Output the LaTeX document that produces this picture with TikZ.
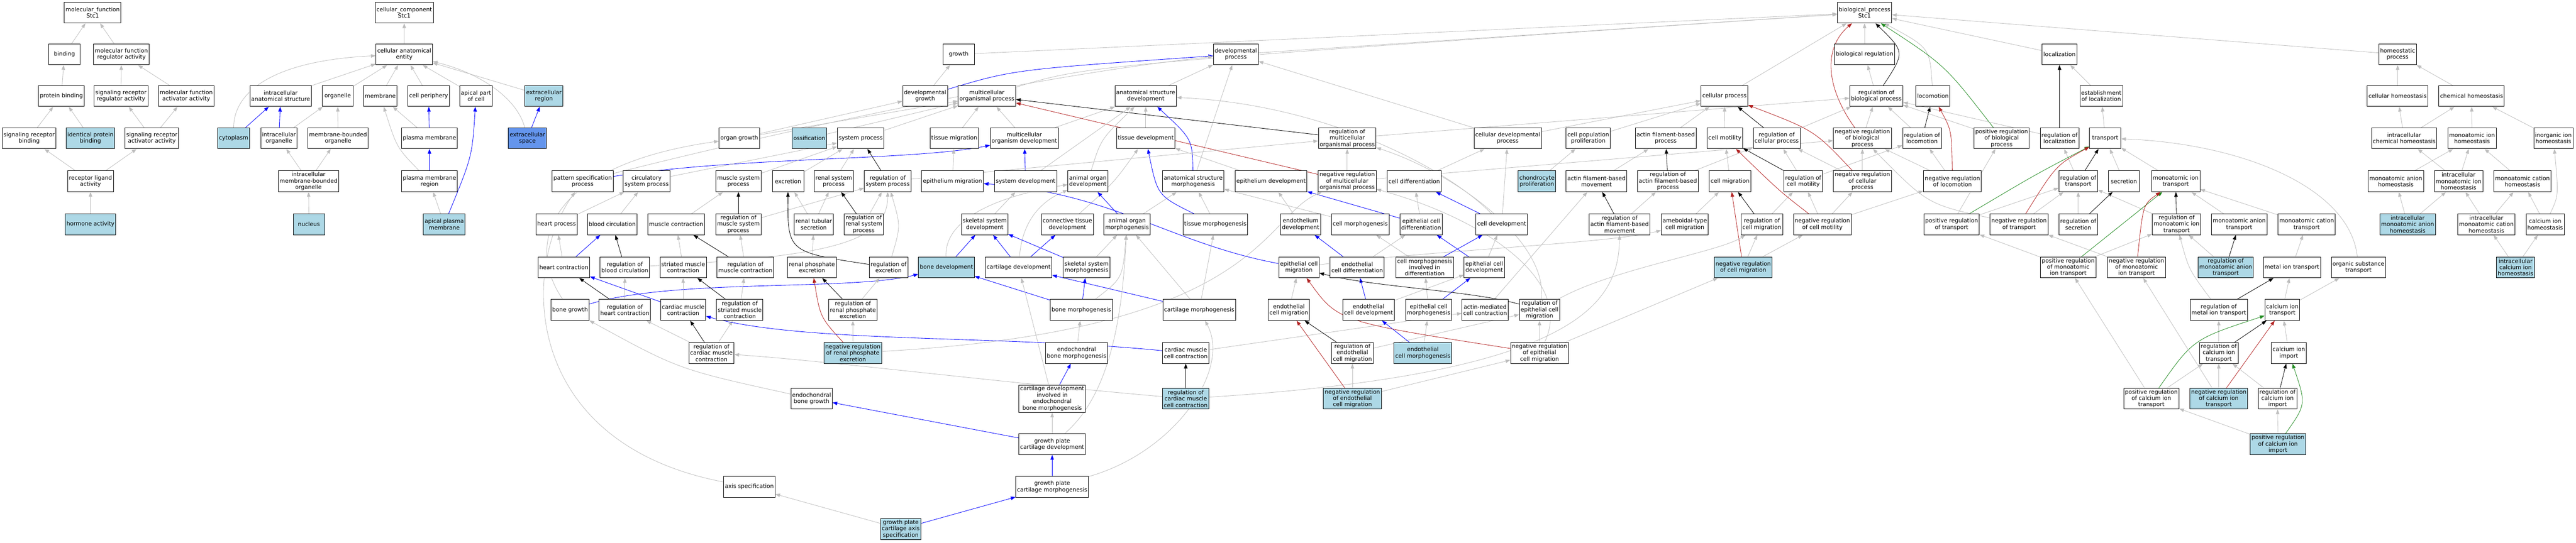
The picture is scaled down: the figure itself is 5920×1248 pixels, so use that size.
\documentclass[tikz,border=0pt]{standalone}
\usepackage{fontspec}
\setmainfont{DejaVu Sans}
\usetikzlibrary{arrows.meta,backgrounds}
\definecolor{hitblue}{HTML}{ADD8E6}
\definecolor{seedblue}{HTML}{6495ED}
\definecolor{edgegray}{HTML}{BEBEBE}
\definecolor{negred}{HTML}{B22222}
\definecolor{posgreen}{HTML}{228B22}
\begin{document}
\begin{tikzpicture}[x=1pt,y=-1pt,
  term/.style={draw, rectangle, fill=white, line width=1.1pt, minimum width=72pt, minimum height=48pt, inner sep=3pt, align=center, font=\fontsize{13pt}{14.7pt}\selectfont},
  hit/.style={term, fill=hitblue},
  seed/.style={term, fill=seedblue},
  isa/.style={color=edgegray, line width=1pt, -{Triangle[length=11pt,width=8pt]}},
  partof/.style={isa, color=blue},
  reg/.style={isa, color=black},
  negreg/.style={isa, color=negred},
  posreg/.style={isa, color=posgreen}]
\useasboundingbox (0,0) rectangle (5920,1248);
% molecular function
\node[term] (mf) at (213,29) {molecular\_function\\Stc1};
\node[term] (bind) at (148,125) {binding};
\node[term] (mfra) at (279,125) {molecular function\\regulator activity};
\node[term] (pbind) at (141,221) {protein binding};
\node[term] (srra) at (278,221) {signaling receptor\\regulator activity};
\node[term] (mfaa) at (428,221) {molecular function\\activator activity};
\node[term] (srb) at (67,318) {signaling receptor\\binding};
\node[hit] (ipb) at (208,318) {identical protein\\binding};
\node[term] (sraa) at (349,318) {signaling receptor\\activator activity};
\node[term] (rla) at (208,417) {receptor ligand\\activity};
\node[hit] (horm) at (208,516) {hormone activity};
% cellular component
\node[term] (cc) at (929,29) {cellular\_component\\Stc1};
\node[term] (cae) at (929,125) {cellular anatomical\\entity};
\node[term] (ias) at (645,221) {intracellular\\anatomical structure};
\node[term] (org) at (776,221) {organelle};
\node[term] (mem) at (874,221) {membrane};
\node[term] (cper) at (985,221) {cell periphery};
\node[term] (apc) at (1094,221) {apical part\\of cell};
\node[hit] (exr) at (1250,221) {extracellular\\region};
\node[hit] (cyto) at (537,318) {cytoplasm};
\node[term] (iorg) at (641,318) {intracellular\\organelle};
\node[term] (mbo) at (777,318) {membrane-bounded\\organelle};
\node[term] (pm) at (987,318) {plasma membrane};
\node[seed] (exs) at (1212,318) {extracellular\\space};
\node[term] (imbo) at (709,417) {intracellular\\membrane-bounded\\organelle};
\node[term] (pmr) at (987,417) {plasma membrane\\region};
\node[hit] (nuc) at (710,516) {nucleus};
\node[hit] (apm) at (1021,516) {apical plasma\\membrane};
% biological process
\node[term] (bp) at (4285,29) {biological\_process\\Stc1};
\node[term] (growth) at (2203,125) {growth};
\node[term] (devp) at (2840,125) {developmental\\process};
\node[term] (breg) at (4285,125) {biological regulation};
\node[term] (loc) at (4733,125) {localization};
\node[term] (homp) at (5510,125) {homeostatic\\process};
\node[term] (devg) at (2126,221) {developmental\\growth};
\node[term] (mop) at (2268,221) {multicellular\\organismal process};
\node[term] (asd) at (2633,221) {anatomical structure\\development};
\node[term] (cproc) at (3963,221) {cellular process};
\node[term] (rbp) at (4312,221) {regulation of\\biological process};
\node[term] (locom) at (4442,221) {locomotion};
\node[term] (estloc) at (4829,221) {establishment\\of localization};
\node[term] (chom) at (5510,221) {cellular homeostasis};
\node[term] (chemh) at (5680,221) {chemical homeostasis};
\node[term] (orgg) at (1699,318) {organ growth};
\node[hit] (oss) at (1860,318) {ossification};
\node[term] (sysp) at (1978,318) {system process};
\node[term] (tmig) at (2193,318) {tissue migration};
\node[term] (mod) at (2354,318) {multicellular\\organism development};
\node[term] (tdev) at (2633,318) {tissue development};
\node[term] (rmop) at (3096,318) {regulation of\\multicellular\\organismal process};
\node[term] (cdp) at (3465,318) {cellular developmental\\process};
\node[term] (cpp) at (3650,318) {cell population\\proliferation};
\node[term] (afbp) at (3828,318) {actin filament-based\\process};
\node[term] (cmot) at (3964,318) {cell motility};
\node[term] (rcp) at (4083,318) {regulation of\\cellular process};
\node[term] (nrbp) at (4280,318) {negative regulation\\of biological\\process};
\node[term] (rloc) at (4417,318) {regulation of\\locomotion};
\node[term] (prbp) at (4600,318) {positive regulation\\of biological\\process};
\node[term] (rlocz) at (4733,318) {regulation of\\localization};
\node[term] (trans) at (4838,318) {transport};
\node[term] (ichem) at (5525,318) {intracellular\\chemical homeostasis};
\node[term] (mih) at (5681,318) {monoatomic ion\\homeostasis};
\node[term] (iih) at (5868,318) {inorganic ion\\homeostasis};
\node[term] (pspec) at (1339,417) {pattern specification\\process};
\node[term] (csp) at (1486,417) {circulatory\\system process};
\node[term] (msp) at (1697,417) {muscle system\\process};
\node[term] (excr) at (1811,417) {excretion};
\node[term] (rsp) at (1916,417) {renal system\\process};
\node[term] (rsysp) at (2040,417) {regulation of\\system process};
\node[term] (emig) at (2189,417) {epithelium migration};
\node[term] (sdev) at (2357,417) {system development};
\node[term] (aod) at (2500,417) {animal organ\\development};
\node[term] (asm) at (2742,417) {anatomical structure\\morphogenesis};
\node[term] (edev) at (2921,417) {epithelium development};
\node[term] (nrmop) at (3096,417) {negative regulation\\of multicellular\\organismal process};
\node[term] (cdiff) at (3250,417) {cell differentiation};
\node[hit] (chpro) at (3532,417) {chondrocyte\\proliferation};
\node[term] (afbm) at (3669,417) {actin filament-based\\movement};
\node[term] (rafbp) at (3833,417) {regulation of\\actin filament-based\\process};
\node[term] (cmig) at (3976,417) {cell migration};
\node[term] (rcmot) at (4144,417) {regulation of\\cell motility};
\node[term] (nrcp) at (4280,417) {negative regulation\\of cellular\\process};
\node[term] (nrloc) at (4487,417) {negative regulation\\of locomotion};
\node[term] (rtrans) at (4776,417) {regulation of\\transport};
\node[term] (secr) at (4881,417) {secretion};
\node[term] (mit) at (5000,417) {monoatomic ion\\transport};
\node[term] (manh) at (5506,417) {monoatomic anion\\homeostasis};
\node[term] (imih) at (5650,417) {intracellular\\monoatomic ion\\homeostasis};
\node[term] (mcath) at (5797,417) {monoatomic cation\\homeostasis};
\node[term] (hproc) at (1279,516) {heart process};
\node[term] (bcirc) at (1407,516) {blood circulation};
\node[term] (mcon) at (1554,516) {muscle contraction};
\node[term] (rmsp) at (1697,516) {regulation of\\muscle system\\process};
\node[term] (rts) at (1870,516) {renal tubular\\secretion};
\node[term] (rrsp) at (1985,516) {regulation of\\renal system\\process};
\node[term] (ssd) at (2263,516) {skeletal system\\development};
\node[term] (ctd) at (2453,516) {connective tissue\\development};
\node[term] (aom) at (2590,516) {animal organ\\morphogenesis};
\node[term] (tmorph) at (2793,516) {tissue morphogenesis};
\node[term] (endev) at (2989,516) {endothelium\\development};
\node[term] (cmorph) at (3126,516) {cell morphogenesis};
\node[term] (ecd) at (3266,516) {epithelial cell\\differentiation};
\node[term] (cdev) at (3451,516) {cell development};
\node[term] (rafbm) at (3722,516) {regulation of\\actin filament-based\\movement};
\node[term] (amcm) at (3872,516) {ameboidal-type\\cell migration};
\node[term] (rcmig) at (4049,516) {regulation of\\cell migration};
\node[term] (nrcmot) at (4188,516) {negative regulation\\of cell motility};
\node[term] (prt) at (4485,516) {positive regulation\\of transport};
\node[term] (nrt) at (4640,516) {negative regulation\\of transport};
\node[term] (rsec) at (4776,516) {regulation of\\secretion};
\node[term] (rmit) at (5002,516) {regulation of\\monoatomic ion\\transport};
\node[term] (mant) at (5146,516) {monoatomic anion\\transport};
\node[term] (mcat) at (5301,516) {monoatomic cation\\transport};
\node[hit] (imanh) at (5533,516) {intracellular\\monoatomic anion\\homeostasis};
\node[term] (imcath) at (5714,516) {intracellular\\monoatomic cation\\homeostasis};
\node[term] (cah) at (5849,516) {calcium ion\\homeostasis};
\node[term] (hcon) at (1296,615) {heart contraction};
\node[term] (rbc) at (1436,615) {regulation of\\blood circulation};
\node[term] (smc) at (1570,615) {striated muscle\\contraction};
\node[term] (rmc) at (1713,615) {regulation of\\muscle contraction};
\node[term] (rpe) at (1866,615) {renal phosphate\\excretion};
\node[term] (rexc) at (2042,615) {regulation of\\excretion};
\node[hit] (bdev) at (2175,615) {bone development};
\node[term] (cdevl) at (2341,615) {cartilage development};
\node[term] (ssm) at (2497,615) {skeletal system\\morphogenesis};
\node[term] (ecmig) at (2985,615) {epithelial cell\\migration};
\node[term] (ecdiff) at (3119,615) {endothelial\\cell differentiation};
\node[term] (cmid) at (3274,615) {cell morphogenesis\\involved in\\differentiation};
\node[term] (ecdev) at (3411,615) {epithelial cell\\development};
\node[hit] (nrcmig) at (4006,615) {negative regulation\\of cell migration};
\node[term] (prmit) at (4753,615) {positive regulation\\of monoatomic\\ion transport};
\node[term] (nrmit) at (4910,615) {negative regulation\\of monoatomic\\ion transport};
\node[hit] (rmant) at (5115,615) {regulation of\\monoatomic anion\\transport};
\node[term] (mett) at (5267,615) {metal ion transport};
\node[term] (ost) at (5420,615) {organic substance\\transport};
\node[hit] (icah) at (5781,615) {intracellular\\calcium ion\\homeostasis};
\node[term] (bgrow) at (1310,713) {bone growth};
\node[term] (rhc) at (1436,713) {regulation of\\heart contraction};
\node[term] (cmc) at (1570,713) {cardiac muscle\\contraction};
\node[term] (rsmc) at (1700,713) {regulation of\\striated muscle\\contraction};
\node[term] (rrpe) at (1960,713) {regulation of\\renal phosphate\\excretion};
\node[term] (bmorph) at (2485,713) {bone morphogenesis};
\node[term] (cmorphl) at (2756,713) {cartilage morphogenesis};
\node[term] (encmig) at (2962,713) {endothelial\\cell migration};
\node[term] (encdev) at (3145,713) {endothelial\\cell development};
\node[term] (ecmorph) at (3283,713) {epithelial cell\\morphogenesis};
\node[term] (amcc) at (3413,713) {actin-mediated\\cell contraction};
\node[term] (recm) at (3538,713) {regulation of\\epithelial cell\\migration};
\node[term] (rmett) at (5099,713) {regulation of\\metal ion transport};
\node[term] (cait) at (5245,713) {calcium ion\\transport};
\node[term] (rcmc) at (1635,812) {regulation of\\cardiac muscle\\contraction};
\node[hit] (nrrpe) at (1960,812) {negative regulation\\of renal phosphate\\excretion};
\node[term] (ebm) at (2474,812) {endochondral\\bone morphogenesis};
\node[term] (cmcc) at (2725,812) {cardiac muscle\\cell contraction};
\node[term] (recmig) at (3108,812) {regulation of\\endothelial\\cell migration};
\node[hit] (encmorph) at (3270,812) {endothelial\\cell morphogenesis};
\node[term] (nrecm) at (3538,812) {negative regulation\\of epithelial\\cell migration};
\node[term] (rcait) at (5099,812) {regulation of\\calcium ion\\transport};
\node[term] (caimp) at (5260,812) {calcium ion\\import};
\node[term] (ebg) at (1865,917) {endochondral\\bone growth};
\node[term] (cdiebm) at (2418,917) {cartilage development\\involved in\\endochondral\\bone morphogenesis};
\node[hit] (rcmcc) at (2725,917) {regulation of\\cardiac muscle\\cell contraction};
\node[hit] (nrencm) at (3108,917) {negative regulation\\of endothelial\\cell migration};
\node[term] (prcait) at (4944,917) {positive regulation\\of calcium ion\\transport};
\node[hit] (nrcait) at (5099,917) {negative regulation\\of calcium ion\\transport};
\node[term] (rcaimp) at (5234,917) {regulation of\\calcium ion\\import};
\node[term] (gpcd) at (2418,1022) {growth plate\\cartilage development};
\node[hit] (prcaimp) at (5235,1022) {positive regulation\\of calcium ion\\import};
\node[term] (axspec) at (1722,1120) {axis specification};
\node[term] (gpcm) at (2418,1120) {growth plate\\cartilage morphogenesis};
\node[hit] (gpcas) at (2070,1217) {growth plate\\cartilage axis\\specification};
\begin{pgfonlayer}{background}
% molecular function edges
\draw[isa] (bind) -- (mf);
\draw[isa] (mfra) -- (mf);
\draw[isa] (pbind) -- (bind);
\draw[isa] (srra) -- (mfra);
\draw[isa] (mfaa) -- (mfra);
\draw[isa] (srb) -- (pbind);
\draw[isa] (ipb) -- (pbind);
\draw[isa] (sraa) -- (srra);
\draw[isa] (sraa) -- (mfaa);
\draw[isa] (rla) -- (srb);
\draw[isa] (rla) -- (sraa);
\draw[isa] (horm) -- (rla);
% cellular component edges
\draw[isa] (cae) -- (cc);
\draw[isa] (ias) -- (cae);
\draw[isa] (org) -- (cae);
\draw[isa] (mem) -- (cae);
\draw[isa] (cper) -- (cae);
\draw[isa] (apc) -- (cae);
\draw[isa] (exr) -- (cae);
\draw[isa] (cyto) .. controls (537,215) and (620,140) .. (cae);
\draw[isa] (exs) .. controls (1190,230) and (1110,170) .. (cae);
\draw[partof] (cyto) -- (ias);
\draw[partof] (iorg) -- (ias);
\draw[isa] (iorg) -- (org);
\draw[isa] (mbo) -- (org);
\draw[isa] (imbo) -- (iorg);
\draw[isa] (imbo) -- (mbo);
\draw[isa] (nuc) -- (imbo);
\draw[isa] (pm) -- (mem);
\draw[partof] (pm) -- (cper);
\draw[isa] (pmr) .. controls (912,340) .. (mem);
\draw[partof] (pmr) -- (pm);
\draw[isa] (apm) -- (pmr);
\draw[partof] (apm) .. controls (1085,360) .. (apc);
\draw[partof] (exs) -- (exr);
% biological process edges
\draw[isa] (growth) -- (bp);
\draw[isa] (devp) -- (bp);
\draw[isa] (mop) .. controls (2500,150) .. (bp);
\draw[isa] (cproc) -- (bp);
\draw[isa] (breg) -- (bp);
\draw[reg] (rbp) .. controls (4378,120) .. (bp);
\draw[negreg] (nrbp) .. controls (4195,200) and (4190,110) .. (bp);
\draw[isa] (locom) .. controls (4435,110) .. (bp);
\draw[posreg] (prbp) .. controls (4470,150) .. (bp);
\draw[isa] (loc) -- (bp);
\draw[isa] (homp) -- (bp);
\draw[isa] (rbp) -- (breg);
\draw[reg] (rlocz) -- (loc);
\draw[isa] (estloc) -- (loc);
\draw[isa] (trans) -- (estloc);
\draw[isa] (chom) -- (homp);
\draw[isa] (chemh) -- (homp);
\draw[isa] (devg) -- (growth);
\draw[partof] (devg) .. controls (2330,160) .. (devp);
\draw[isa] (asd) -- (devp);
\draw[isa] (asm) -- (devp);
\draw[isa] (cdp) -- (devp);
\draw[isa] (pspec) .. controls (1800,300) and (2400,170) .. (devp);
\draw[isa] (sysp) -- (mop);
\draw[isa] (orgg) -- (devg);
\draw[isa] (orgg) -- (mop);
\draw[isa] (oss) -- (mop);
\draw[isa] (tmig) -- (mop);
\draw[isa] (mod) -- (mop);
\draw[isa] (mod) -- (asd);
\draw[isa] (tdev) -- (asd);
\draw[reg] (rmop) -- (mop);
\draw[negreg] (nrmop) -- (mop);
\draw[partof] (pspec) .. controls (1700,360) and (2100,370) .. (mod);
\draw[partof] (sdev) -- (mod);
\draw[isa] (sdev) -- (asd);
\draw[isa] (aod) .. controls (2530,320) .. (asd);
\draw[partof] (asm) .. controls (2740,320) .. (asd);
\draw[isa] (edev) -- (tdev);
\draw[isa] (emig) -- (tmig);
\draw[isa] (ssd) -- (sdev);
\draw[isa] (ctd) .. controls (2560,420) .. (tdev);
\draw[partof] (aom) -- (aod);
\draw[isa] (aom) -- (asm);
\draw[partof] (tmorph) .. controls (2660,450) .. (tdev);
\draw[isa] (tmorph) -- (asm);
\draw[isa] (endev) -- (edev);
\draw[partof] (ecd) -- (edev);
\draw[isa] (cmorph) -- (asm);
\draw[isa] (cdev) .. controls (3330,390) and (3050,240) .. (asd);
\draw[partof] (bdev) -- (ssd);
\draw[isa] (bdev) .. controls (2170,500) and (2300,450) .. (aod);
\draw[partof] (cdevl) -- (ssd);
\draw[partof] (cdevl) -- (ctd);
\draw[isa] (cdevl) .. controls (2350,500) and (2400,460) .. (aod);
\draw[partof] (ssm) -- (ssd);
\draw[isa] (ssm) -- (aom);
\draw[partof] (bmorph) -- (bdev);
\draw[partof] (bmorph) -- (ssm);
\draw[isa] (bmorph) .. controls (2580,640) .. (aom);
\draw[partof] (cmorphl) -- (cdevl);
\draw[isa] (cmorphl) -- (tmorph);
\draw[isa] (cmorphl) -- (aom);
\draw[isa] (ebm) -- (bmorph);
\draw[partof] (cdiebm) -- (ebm);
\draw[isa] (cdiebm) -- (cdevl);
\draw[isa] (gpcd) -- (cdiebm);
\draw[isa] (gpcd) .. controls (2560,900) and (2580,700) .. (aom);
\draw[partof] (gpcd) -- (ebg);
\draw[partof] (gpcm) -- (gpcd);
\draw[isa] (gpcm) .. controls (2700,1040) and (2830,850) .. (cmorphl);
\draw[partof] (gpcas) -- (gpcm);
\draw[isa] (gpcas) -- (axspec);
\draw[isa] (axspec) .. controls (1200,1020) and (1195,620) .. (pspec);
\draw[isa] (bgrow) .. controls (1205,560) and (1260,380) .. (orgg);
\draw[partof] (bgrow) .. controls (1550,640) and (1950,670) .. (bdev);
\draw[isa] (ebg) .. controls (1560,850) .. (bgrow);
% physiology
\draw[isa] (csp) -- (sysp);
\draw[isa] (msp) -- (sysp);
\draw[isa] (excr) -- (sysp);
\draw[isa] (rsp) -- (sysp);
\draw[reg] (rsysp) -- (sysp);
\draw[isa] (rsysp) -- (rmop);
\draw[isa] (hproc) -- (csp);
\draw[isa] (bcirc) -- (csp);
\draw[isa] (mcon) -- (msp);
\draw[reg] (rmsp) -- (msp);
\draw[isa] (rmsp) -- (rsysp);
\draw[isa] (rts) -- (excr);
\draw[isa] (rts) -- (rsp);
\draw[reg] (rrsp) -- (rsp);
\draw[isa] (rrsp) -- (rsysp);
\draw[isa] (hcon) -- (hproc);
\draw[partof] (hcon) -- (bcirc);
\draw[reg] (rbc) -- (bcirc);
\draw[isa] (rbc) .. controls (1900,590) and (2040,560) .. (rsysp);
\draw[isa] (smc) -- (mcon);
\draw[reg] (rmc) -- (mcon);
\draw[isa] (rmc) -- (rmsp);
\draw[isa] (rpe) -- (rts);
\draw[reg] (rexc) .. controls (1810,580) .. (excr);
\draw[isa] (rexc) .. controls (2070,520) .. (rsysp);
\draw[reg] (rhc) -- (hcon);
\draw[isa] (rhc) -- (rbc);
\draw[partof] (cmc) -- (hcon);
\draw[isa] (cmc) -- (smc);
\draw[reg] (rsmc) -- (smc);
\draw[isa] (rsmc) -- (rmc);
\draw[reg] (rrpe) -- (rpe);
\draw[isa] (rrpe) -- (rexc);
\draw[reg] (rcmc) -- (cmc);
\draw[isa] (rcmc) -- (rsmc);
\draw[isa] (rcmc) -- (rhc);
\draw[isa] (nrrpe) -- (rrpe);
\draw[negreg] (nrrpe) .. controls (1885,730) .. (rpe);
\draw[isa] (nrrpe) .. controls (2900,760) and (2900,500) .. (nrmop);
\draw[partof] (cmcc) .. controls (2300,770) and (1850,790) .. (cmc);
\draw[isa] (cmcc) -- (amcc);
\draw[reg] (rcmcc) -- (cmcc);
\draw[isa] (rcmcc) .. controls (2300,880) and (1900,830) .. (rcmc);
\draw[isa] (rcmcc) .. controls (3620,860) and (3720,700) .. (rafbm);
% cellular processes
\draw[isa] (rmop) -- (rbp);
\draw[isa] (nrmop) -- (rmop);
\draw[isa] (nrmop) -- (nrbp);
\draw[isa] (cdp) -- (cproc);
\draw[isa] (cpp) -- (cproc);
\draw[isa] (afbp) -- (cproc);
\draw[isa] (cmot) -- (cproc);
\draw[isa] (rcp) -- (rbp);
\draw[reg] (rcp) -- (cproc);
\draw[isa] (nrbp) -- (rbp);
\draw[isa] (rloc) -- (rbp);
\draw[reg] (rloc) -- (locom);
\draw[isa] (prbp) -- (rbp);
\draw[isa] (rlocz) -- (rbp);
\draw[isa] (cdiff) -- (cdp);
\draw[isa] (chpro) -- (cpp);
\draw[isa] (afbm) -- (afbp);
\draw[reg] (rafbp) -- (afbp);
\draw[isa] (rafbp) -- (rcp);
\draw[isa] (cmig) -- (cmot);
\draw[reg] (rcmot) -- (cmot);
\draw[isa] (rcmot) -- (rcp);
\draw[isa] (rcmot) -- (rloc);
\draw[isa] (nrcp) -- (rcp);
\draw[isa] (nrcp) -- (nrbp);
\draw[negreg] (nrcp) .. controls (4170,300) .. (cproc);
\draw[isa] (nrloc) -- (rloc);
\draw[negreg] (nrloc) .. controls (4485,300) .. (locom);
\draw[isa] (nrloc) -- (nrbp);
\draw[isa] (rtrans) -- (rlocz);
\draw[reg] (rtrans) -- (trans);
\draw[isa] (secr) -- (trans);
\draw[isa] (mit) -- (trans);
\draw[isa] (ost) .. controls (5400,430) and (5150,330) .. (trans);
\draw[partof] (cdev) -- (cdiff);
\draw[isa] (cdev) -- (cdp);
\draw[isa] (ecd) -- (cdiff);
\draw[isa] (rafbm) -- (rafbp);
\draw[reg] (rafbm) -- (afbm);
\draw[isa] (amcm) -- (cmig);
\draw[partof] (ecmig) .. controls (2690,560) and (2560,445) .. (emig);
\draw[isa] (ecmig) .. controls (3300,575) and (3700,560) .. (amcm);
\draw[isa] (encmig) -- (ecmig);
\draw[isa] (ecdiff) -- (ecd);
\draw[partof] (ecdiff) -- (endev);
\draw[isa] (cmid) -- (cmorph);
\draw[partof] (cmid) -- (cdev);
\draw[partof] (ecdev) -- (ecd);
\draw[isa] (ecdev) -- (cdev);
\draw[isa] (nrcmig) -- (rcmig);
\draw[negreg] (nrcmig) -- (cmig);
\draw[isa] (nrcmig) -- (nrcmot);
\draw[reg] (rcmig) -- (cmig);
\draw[isa] (rcmig) -- (rcmot);
\draw[isa] (nrcmot) -- (rcmot);
\draw[negreg] (nrcmot) .. controls (4090,440) .. (cmot);
\draw[isa] (nrcmot) -- (nrcp);
\draw[isa] (nrcmot) -- (nrloc);
\draw[partof] (encdev) -- (ecdiff);
\draw[isa] (encdev) -- (ecdev);
\draw[isa] (ecmorph) -- (cmid);
\draw[partof] (ecmorph) -- (ecdev);
\draw[isa] (amcc) -- (afbm);
\draw[reg] (recm) .. controls (3380,668) and (3150,660) .. (ecmig);
\draw[isa] (recm) .. controls (3700,620) and (3950,580) .. (rcmig);
\draw[isa] (recm) .. controls (3560,560) and (3350,400) .. (rmop);
\draw[reg] (recmig) -- (encmig);
\draw[isa] (recmig) -- (recm);
\draw[partof] (encmorph) -- (encdev);
\draw[isa] (encmorph) -- (ecmorph);
\draw[isa] (nrecm) -- (recm);
\draw[negreg] (nrecm) .. controls (3075,740) .. (ecmig);
\draw[isa] (nrecm) -- (nrcmig);
\draw[isa] (nrecm) .. controls (3620,640) and (3400,500) .. (nrmop);
\draw[isa] (nrencm) -- (recmig);
\draw[negreg] (nrencm) -- (encmig);
\draw[isa] (nrencm) -- (nrecm);
% transport
\draw[isa] (prt) -- (rtrans);
\draw[posreg] (prt) .. controls (4680,400) .. (trans);
\draw[isa] (prt) -- (prbp);
\draw[isa] (nrt) -- (rtrans);
\draw[negreg] (nrt) .. controls (4725,380) .. (trans);
\draw[isa] (nrt) .. controls (4430,470) .. (nrbp);
\draw[isa] (rsec) -- (rtrans);
\draw[reg] (rsec) -- (secr);
\draw[isa] (rmit) -- (rtrans);
\draw[reg] (rmit) -- (mit);
\draw[isa] (mant) -- (mit);
\draw[isa] (mcat) -- (mit);
\draw[isa] (prmit) -- (prt);
\draw[isa] (prmit) -- (rmit);
\draw[posreg] (prmit) -- (mit);
\draw[isa] (nrmit) -- (nrt);
\draw[negreg] (nrmit) .. controls (4925,470) .. (mit);
\draw[isa] (rmant) -- (rmit);
\draw[reg] (rmant) -- (mant);
\draw[isa] (mett) -- (mcat);
\draw[reg] (rmett) -- (mett);
\draw[isa] (rmett) .. controls (5030,620) .. (rmit);
\draw[isa] (cait) -- (mett);
\draw[isa] (cait) -- (ost);
\draw[isa] (rcait) -- (rmett);
\draw[reg] (rcait) -- (cait);
\draw[isa] (caimp) -- (cait);
\draw[isa] (prcait) -- (rcait);
\draw[posreg] (prcait) .. controls (5040,780) .. (cait);
\draw[isa] (prcait) -- (prmit);
\draw[isa] (nrcait) -- (rcait);
\draw[negreg] (nrcait) -- (cait);
\draw[isa] (nrcait) -- (nrmit);
\draw[isa] (rcaimp) -- (rcait);
\draw[reg] (rcaimp) -- (caimp);
\draw[isa] (prcaimp) -- (rcaimp);
\draw[posreg] (prcaimp) .. controls (5300,930) .. (caimp);
\draw[isa] (prcaimp) -- (prcait);
% homeostasis
\draw[isa] (ichem) -- (chom);
\draw[isa] (ichem) -- (chemh);
\draw[isa] (mih) -- (chemh);
\draw[isa] (iih) -- (chemh);
\draw[isa] (manh) -- (mih);
\draw[isa] (imih) -- (ichem);
\draw[isa] (imih) -- (mih);
\draw[isa] (mcath) -- (mih);
\draw[isa] (imanh) -- (manh);
\draw[isa] (imanh) -- (imih);
\draw[isa] (imcath) -- (imih);
\draw[isa] (imcath) -- (mcath);
\draw[isa] (cah) -- (mcath);
\draw[isa] (cah) .. controls (5880,450) .. (iih);
\draw[isa] (icah) -- (imcath);
\draw[isa] (icah) -- (cah);
\end{pgfonlayer}
\end{tikzpicture}
\end{document}
